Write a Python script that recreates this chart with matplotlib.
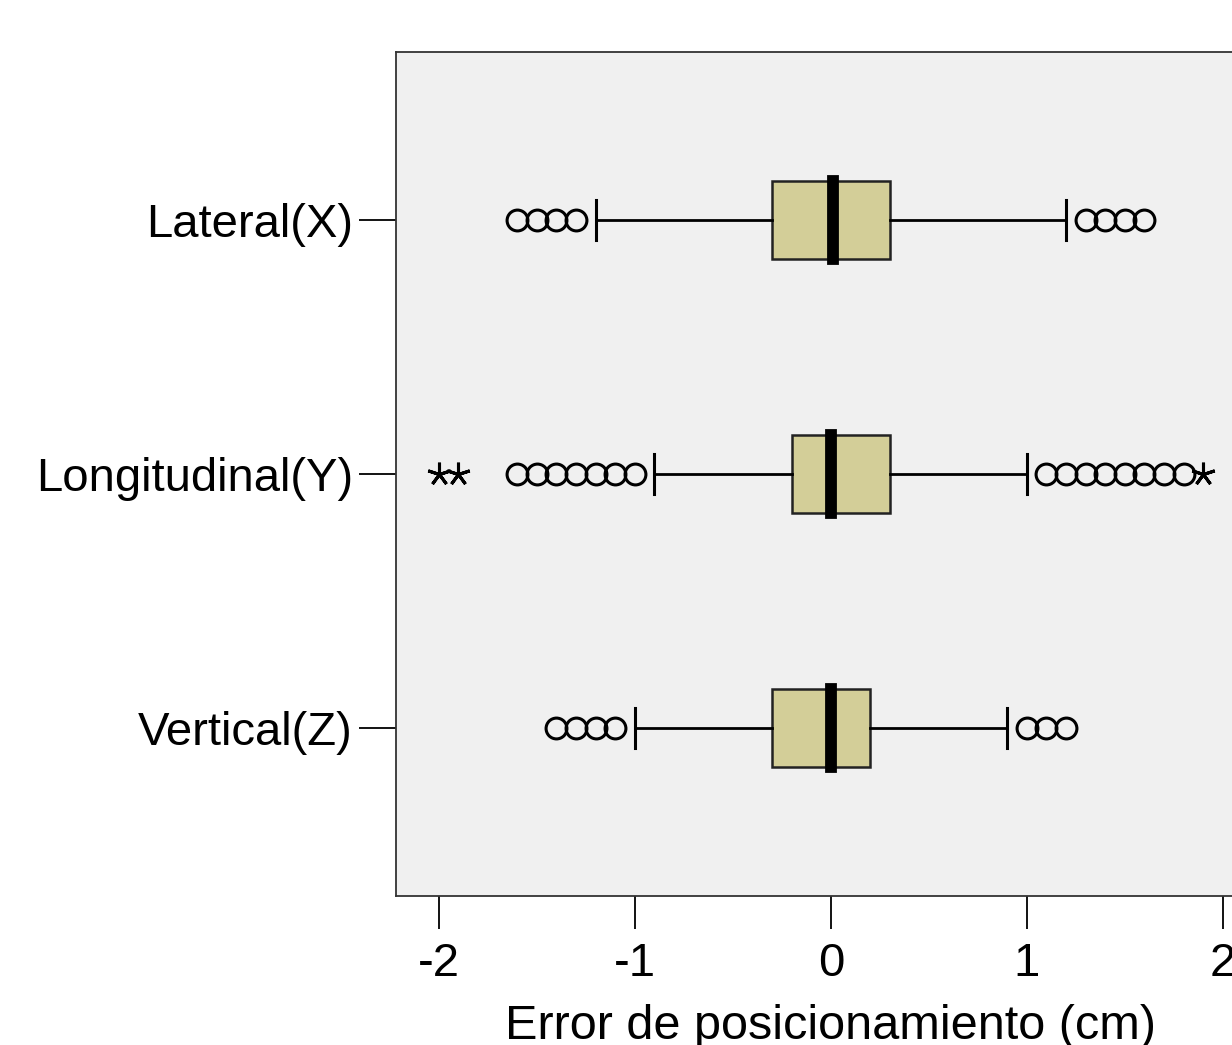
import numpy as np
import matplotlib
matplotlib.use("Agg")
import matplotlib.pyplot as plt

plt.rcParams['font.family'] = ['Liberation Sans', 'DejaVu Sans']

# Boxplot summaries (cm)
labels = ['Lateral(X)', 'Longitudinal(Y)', 'Vertical(Z)']
q1 = [-0.3, -0.2, -0.3]
med = [0.01, 0.0, 0.0]
q3 = [0.3, 0.3, 0.2]
whislo = [-1.2, -0.9, -1.0]
whishi = [1.2, 1.0, 0.9]

# outliers (circles)
out_lateral = [-1.6, -1.5, -1.4, -1.3, 1.3, 1.4, 1.5, 1.6]
out_longitudinal = [-1.6, -1.5, -1.4, -1.3, -1.2, -1.1, -1.0,
                    1.1, 1.2, 1.3, 1.4, 1.5, 1.6, 1.7, 1.8]
out_vertical = [-1.4, -1.3, -1.2, -1.1, 1.0, 1.1, 1.2]
outliers = [out_lateral, out_longitudinal, out_vertical]

# extreme values (stars)
ext_lateral = []
ext_longitudinal = [-2.0, -1.9, 1.9]
ext_vertical = []
extremes = [ext_lateral, ext_longitudinal, ext_vertical]

xticks = [-2, -1, 0, 1, 2]

fig = plt.figure(figsize=(12.32, 10.45), dpi=100)
ax = fig.add_axes([0.3214, 0.1426, 0.706, 0.8076])
ax.set_facecolor('#f0f0f0')

stats = []
for i in range(len(labels)):
    stats.append(dict(q1=q1[i], med=med[i], q3=q3[i], whislo=whislo[i],
                      whishi=whishi[i], fliers=outliers[i], label=labels[i]))

pos = np.arange(1, len(labels) + 1)
ax.bxp(stats, positions=pos, vert=False, widths=0.31, patch_artist=True,
       showfliers=True, capwidths=0.155,
       boxprops=dict(facecolor='#d3ce98', edgecolor='#222222', linewidth=1.8),
       medianprops=dict(color='black', linewidth=8.5, solid_capstyle='projecting'),
       whiskerprops=dict(color='black', linewidth=2),
       capprops=dict(color='black', linewidth=2.2),
       flierprops=dict(marker='o', markersize=15, markerfacecolor='none',
                       markeredgecolor='black', markeredgewidth=2.2))

# extremes drawn as stars
for i, ex in enumerate(extremes):
    if ex:
        ax.plot(ex, [pos[i]] * len(ex), linestyle='none', marker=(5, 2, 0),
                markersize=17, color='black', markeredgewidth=2.2)

ax.set_xlim(-2.219, 2.219)
ax.set_ylim(3.661, 0.339)
ax.set_xticks(xticks)
ax.set_xticklabels([str(t) for t in xticks])
ax.set_yticks(pos)
ax.set_yticklabels(labels)

ax.tick_params(axis='y', length=27, width=1.3, pad=4, labelsize=34)
ax.tick_params(axis='x', length=24, width=1.3, pad=9, labelsize=34)
for s in ax.spines.values():
    s.set_linewidth(1.3)
    s.set_color('#333333')

ax.set_xlabel('Error de posicionamiento (cm)', fontsize=35, labelpad=13)

fig.savefig('out.png', dpi=100, facecolor='white')
